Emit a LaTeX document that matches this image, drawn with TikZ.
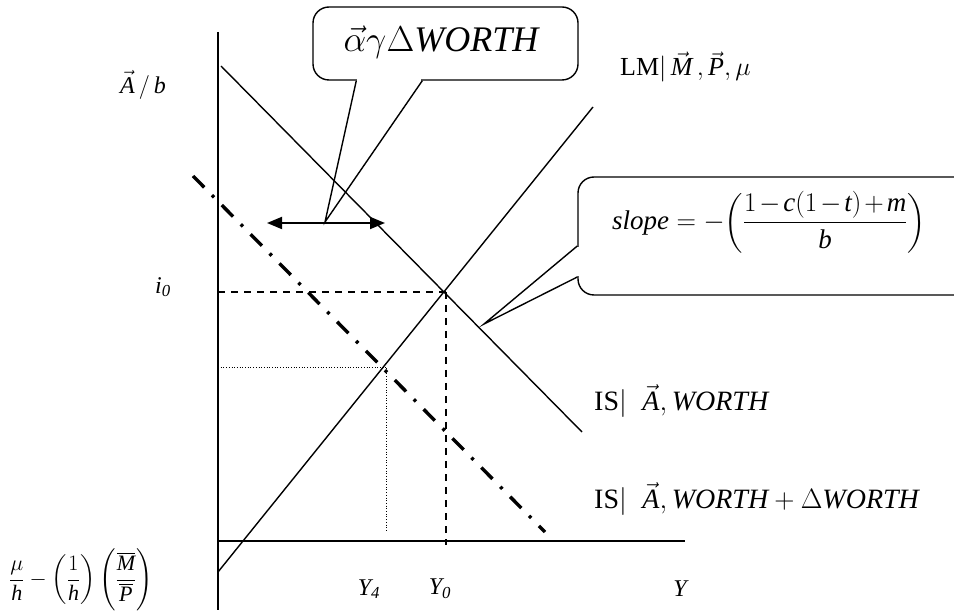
\RequirePackage{fix-cm}
\documentclass[tikz,border=0pt]{standalone}
\usepackage{amsmath}
\usepackage{fontspec}
\setmainfont{Liberation Serif}
\usetikzlibrary{arrows.meta,positioning,calc}

\begin{document}
\begin{tikzpicture}[x=1pt, y=-1pt,
  axis/.style={line width=1.6pt},
  curve/.style={line width=1.4pt},
  shifted/.style={line width=3.4pt, dash pattern=on 16pt off 11pt on 3pt off 11pt},
  guide/.style={line width=1.2pt, dash pattern=on 7pt off 6pt},
  guidedot/.style={line width=1pt, dash pattern=on 1pt off 1.7pt},
  lbl/.style={font=\fontsize{24}{28}\selectfont, inner sep=0pt},
  biglbl/.style={lbl, font=\fontsize{28}{32}\selectfont},
  bubble/.style={draw, line width=1.4pt, rounded corners=16pt, fill=white, inner sep=0pt},
  shiftarrow/.style={{Triangle[length=15pt,width=12pt]}-{Triangle[length=15pt,width=12pt]}, line width=1.8pt}
]
\useasboundingbox (0,0) rectangle (954,612);
\clip (0,0) rectangle (954,612);

% axes
\coordinate (ytop) at (218,32);
\coordinate (ybot) at (218,610);
\coordinate (xorg) at (218,541);
\coordinate (xend) at (685,541);
\draw[axis] (ytop) -- (ybot);
\draw[axis] (xorg) -- (xend);

% IS, LM and shifted IS
\coordinate (isA) at (221,66);
\coordinate (isB) at (582,432);
\coordinate (lmA) at (218,572);
\coordinate (lmB) at (593,107);
\coordinate (isnA) at (193,176);
\coordinate (isnB) at (545,532);
\draw[curve] (isA) -- (isB);
\draw[curve] (lmA) -- (lmB);
\draw[shifted] (isnA) -- (isnB);

% equilibria
\coordinate (e0) at (446,292);
\coordinate (e4) at (386,368);
\draw[guide] (218,292) -- (e0);
\draw[guide] (e0) -- (446,545);
\draw[guidedot] (218,368) -- (e4);
\draw[guidedot] (e4) -- (386,532);

% shift arrow
\coordinate (arrL) at (267,223);
\coordinate (arrR) at (385,223);
\draw[shiftarrow] (arrL) -- (arrR);

% callout for the shift
\node[bubble, minimum width=265, minimum height=73] (gap) at (445.5,43.5) {};
\node[lbl, font=\fontsize{36}{40}\selectfont] (gaptext) at (441,42) {$\vec{\alpha}\gamma\Delta\mathit{WORTH}$};
\coordinate (gaptip) at (325,222);
\fill[white] ($(gap.south west)+(45,-2)$) rectangle ($(gap.south west)+(109,2)$);
\draw[line width=1.4pt, line join=miter] ($(gap.south west)+(44,0)$) -- (gaptip) -- ($(gap.south west)+(110,0)$);

% callout for the slope
\node[bubble, minimum width=400, minimum height=118] (slopebox) at (778,236) {};
\node[lbl, font=\fontsize{27}{31}\selectfont] (slope) at (769,222) {\medmuskip=2mu$\displaystyle\mathit{slope}=-\!\left(\frac{1-\mathit{c}(1-\mathit{t})+\mathit{m}}{\mathit{b}}\right)$};
\coordinate (slopetip) at (484,324);
\fill[white] ($(slopebox.west)+(-2,11)$) rectangle ($(slopebox.west)+(2,40)$);
\draw[line width=1.4pt, line join=miter] ($(slopebox.west)+(0,10)$) -- (slopetip) -- ($(slopebox.west)+(0,41)$);

% labels
\node[lbl] (ab) at (143,85) {$\vec{\mathit{A}}\,/\,\mathit{b}$};
\node[lbl] (i0) at (163,287) {$\mathit{i}_{\mathit{0}}$};
\node[lbl, font=\fontsize{26}{30}\selectfont, anchor=west] (lm) at (620,67) {LM$|\,\vec{\mathit{M}}\,,\vec{\mathit{P}},\mu$};
\node[biglbl, anchor=west] (is) at (594,401) {IS$|\;\;\vec{\mathit{A}},\mathit{WORTH}$};
\node[biglbl, anchor=west] (isn) at (594,499) {IS$|\;\;\vec{\mathit{A}},\mathit{WORTH}+\Delta\mathit{WORTH}$};
\node[lbl] (y4) at (369,589) {$\mathit{Y}_{\mathit{4}}$};
\node[lbl] (y0) at (440,589) {$\mathit{Y}_{\mathit{0}}$};
\node[lbl] (yax) at (680,589) {$\mathit{Y}$};
\node[lbl, font=\fontsize{22}{26}\selectfont] (icept) at (81,580) {$\displaystyle\frac{\mu}{\mathit{h}}-\left(\frac{1}{\mathit{h}}\right)\left(\frac{\overline{\mathit{M}}}{\overline{\mathit{P}}}\right)$};
\end{tikzpicture}
\end{document}
